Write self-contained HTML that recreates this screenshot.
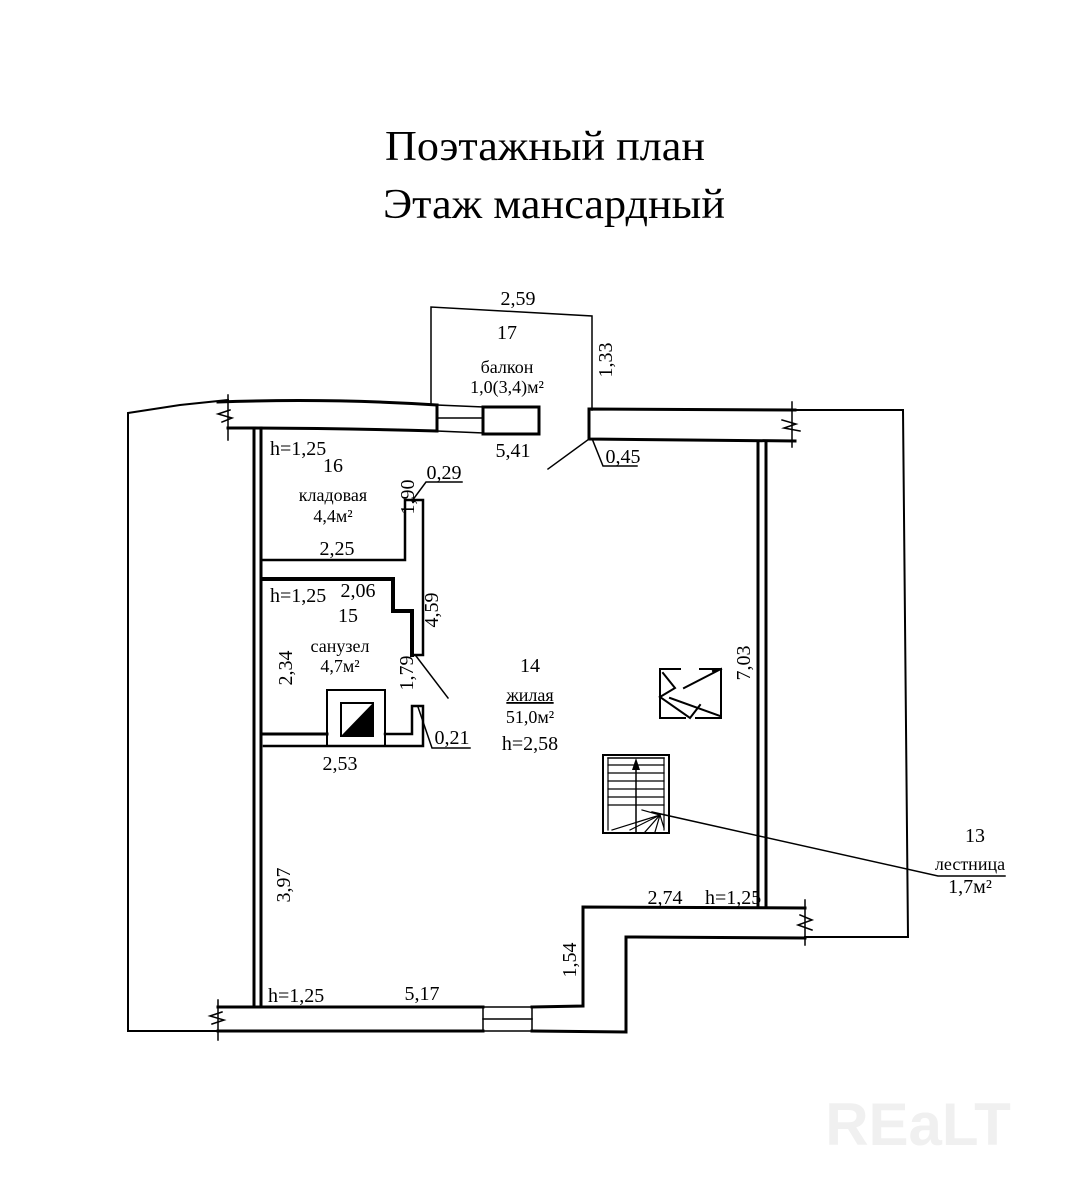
<!DOCTYPE html>
<html><head><meta charset="utf-8"><style>
html,body{margin:0;padding:0;background:#fff;}
svg{display:block;}
text{font-family:"Liberation Serif",serif;fill:#000;}
.t{font-size:20px;}
.s{font-size:18px;}
</style></head><body>
<svg width="1078" height="1203" viewBox="0 0 1078 1203" xmlns="http://www.w3.org/2000/svg">
<g stroke="#000" fill="none" stroke-linecap="square">
<text x="385" y="160" textLength="320" lengthAdjust="spacingAndGlyphs" style="font-size:42px" stroke="none">Поэтажный план</text>
<text x="383" y="218" textLength="342" lengthAdjust="spacingAndGlyphs" style="font-size:42px" stroke="none">Этаж мансардный</text>

<!-- outer thin lines -->
<polyline points="228,400 180,405 128,413 128,1031 218,1031" stroke-width="2"/>
<polyline points="793,410 903,410 908,937 805,937" stroke-width="2"/>

<!-- top left wall -->
<path d="M218,402 Q330,398 437,405" stroke-width="3"/>
<path d="M228,428 Q330,428 437,431" stroke-width="3"/>
<line x1="437" y1="405" x2="437" y2="431" stroke-width="3"/>
<line x1="228" y1="395" x2="228" y2="440" stroke-width="1.5"/>
<polyline points="230,410 218,414 232,418 222,422" stroke-width="1.5"/>
<!-- window -->
<line x1="437" y1="418" x2="483" y2="418" stroke-width="1.5"/>
<line x1="437" y1="405" x2="483" y2="407" stroke-width="1.5"/>
<line x1="437" y1="431" x2="483" y2="433" stroke-width="1.5"/>
<rect x="483" y="407" width="56" height="27" stroke-width="3"/>

<!-- balcony -->
<polyline points="431,405 431,307 592,316 592,410" stroke-width="1.5"/>

<!-- top right wall -->
<polyline points="795,410 589,409 589,439 795,441" stroke-width="3"/>
<line x1="792" y1="402" x2="792" y2="447" stroke-width="1.5"/>
<polyline points="782,420 796,424 784,428 800,431" stroke-width="1.5"/>

<!-- left wall -->
<line x1="254" y1="428" x2="254" y2="1007" stroke-width="3"/>
<line x1="261" y1="428" x2="261" y2="1007" stroke-width="3"/>
<!-- right wall -->
<line x1="758" y1="441" x2="758" y2="907" stroke-width="3"/>
<line x1="766" y1="441" x2="766" y2="907" stroke-width="3"/>

<!-- storage -->
<polyline points="261,560 405,560 405,500 423,500 423,655 412,655" stroke-width="2.5"/>
<!-- bathroom -->
<polyline points="264,579 393,579 393,611 412,611 412,655" stroke-width="4"/>
<polyline points="264,734 327,734" stroke-width="3"/>
<polyline points="385,734 412,734 412,706 423,706 423,746 264,746" stroke-width="2.5"/>
<rect x="327" y="690" width="58" height="56" stroke-width="2"/>
<rect x="341" y="703" width="32" height="33" stroke-width="2"/>
<polygon points="373,703 373,736 341,736" fill="#000" stroke="none"/>

<!-- bottom walls -->
<polyline points="218,1007 483,1007" stroke-width="3"/>
<polyline points="218,1031 483,1031" stroke-width="3"/>
<line x1="218" y1="1000" x2="218" y2="1040" stroke-width="1.5"/>
<polyline points="222,1012 210,1016 224,1020 212,1024" stroke-width="1.5"/>
<rect x="483" y="1007" width="49" height="24" stroke-width="1.5"/>
<line x1="483" y1="1019" x2="532" y2="1019" stroke-width="1.5"/>
<polyline points="532,1007 583,1006 583,907 805,908" stroke-width="3"/>
<polyline points="532,1031 626,1032 626,937 805,938" stroke-width="3"/>
<line x1="805" y1="900" x2="805" y2="945" stroke-width="1.5"/>
<polyline points="800,915 812,920 798,925 812,930" stroke-width="1.5"/>

<!-- stairs -->
<rect x="603" y="755" width="66" height="78" stroke-width="2"/>
<line x1="608" y1="758" x2="664" y2="758" stroke-width="1.5"/>
<line x1="608" y1="758" x2="608" y2="830" stroke-width="1.2"/>
<line x1="664" y1="758" x2="664" y2="830" stroke-width="1.2"/>
<g stroke-width="1.2">
<line x1="608" y1="765" x2="664" y2="765"/><line x1="608" y1="773" x2="664" y2="773"/>
<line x1="608" y1="781" x2="664" y2="781"/><line x1="608" y1="789" x2="664" y2="789"/>
<line x1="608" y1="797" x2="664" y2="797"/><line x1="608" y1="805" x2="664" y2="805"/>
<line x1="660" y1="815" x2="612" y2="830"/><line x1="660" y1="815" x2="630" y2="830"/>
<line x1="660" y1="815" x2="645" y2="832"/><line x1="660" y1="815" x2="655" y2="832"/>
<line x1="660" y1="815" x2="664" y2="828"/><line x1="660" y1="815" x2="642" y2="810"/>
</g>
<line x1="636" y1="832" x2="636" y2="765" stroke-width="1.5"/>
<polygon points="636,758 632,770 640,770" fill="#000" stroke="none"/>
<!-- leader -->
<polyline points="652,812 938,876 1005,876" stroke-width="1.5"/>

<!-- skylight -->
<g stroke-width="2">
<polyline points="680,669 660,669 660,718 685,718"/>
<polyline points="700,669 721,669 721,718 696,718"/>
<polyline points="663,673 675,688 660,697 690,718 700,705"/>
<line x1="684" y1="688" x2="721" y2="669"/><line x1="713" y1="671" x2="721" y2="669"/>
<line x1="670" y1="698" x2="720" y2="716"/>
</g>

<!-- other leaders -->
<line x1="589" y1="439" x2="548" y2="469" stroke-width="1.5"/>
<polyline points="593,441 603,466 637,466" stroke-width="1.5"/>
<polyline points="412,501 426,482 462,482" stroke-width="1.5"/>
<line x1="416" y1="656" x2="448" y2="698" stroke-width="1.5"/>
<polyline points="418,707 432,748 470,748" stroke-width="1.5"/>
</g>

<!-- labels -->
<g class="t">
<text x="518" y="305" text-anchor="middle">2,59</text>
<text x="507" y="339" text-anchor="middle">17</text>
<text x="507" y="373" text-anchor="middle" class="s">балкон</text>
<text x="507" y="393" text-anchor="middle" class="s">1,0(3,4)м²</text>
<text transform="translate(612,360) rotate(-90)" text-anchor="middle">1,33</text>
<text x="513" y="457" text-anchor="middle">5,41</text>
<text x="623" y="463" text-anchor="middle">0,45</text>
<text x="270" y="455">h=1,25</text>
<text x="333" y="472" text-anchor="middle">16</text>
<text x="333" y="501" text-anchor="middle" class="s">кладовая</text>
<text x="333" y="522" text-anchor="middle" class="s">4,4м²</text>
<text transform="translate(414,497) rotate(-90)" text-anchor="middle">1,90</text>
<text x="444" y="479" text-anchor="middle">0,29</text>
<text x="337" y="555" text-anchor="middle">2,25</text>
<text transform="translate(438,610) rotate(-90)" text-anchor="middle">4,59</text>
<text x="270" y="602">h=1,25</text>
<text x="358" y="597" text-anchor="middle">2,06</text>
<text x="348" y="622" text-anchor="middle">15</text>
<text x="340" y="652" text-anchor="middle" class="s">санузел</text>
<text x="340" y="672" text-anchor="middle" class="s">4,7м²</text>
<text transform="translate(292,668) rotate(-90)" text-anchor="middle">2,34</text>
<text transform="translate(413,673) rotate(-90)" text-anchor="middle">1,79</text>
<text x="452" y="744" text-anchor="middle">0,21</text>
<text x="340" y="770" text-anchor="middle">2,53</text>
<text x="530" y="672" text-anchor="middle">14</text>
<text x="530" y="701" text-anchor="middle" class="s" text-decoration="underline">жилая</text>
<text x="530" y="723" text-anchor="middle" class="s">51,0м²</text>
<text x="530" y="750" text-anchor="middle">h=2,58</text>
<text transform="translate(750,663) rotate(-90)" text-anchor="middle">7,03</text>
<text x="975" y="842" text-anchor="middle">13</text>
<text x="970" y="870" text-anchor="middle" class="s">лестница</text>
<text x="970" y="893" text-anchor="middle">1,7м²</text>
<text x="665" y="904" text-anchor="middle">2,74</text>
<text x="705" y="904">h=1,25</text>
<text transform="translate(290,885) rotate(-90)" text-anchor="middle">3,97</text>
<text transform="translate(576,960) rotate(-90)" text-anchor="middle">1,54</text>
<text x="268" y="1002">h=1,25</text>
<text x="422" y="1000" text-anchor="middle">5,17</text>
</g>
<text x="918" y="1145" text-anchor="middle" style="font-family:'Liberation Sans',sans-serif;font-size:60px;font-weight:bold;fill:#f0f0f0;">REaLT</text>
</svg>
</body></html>
